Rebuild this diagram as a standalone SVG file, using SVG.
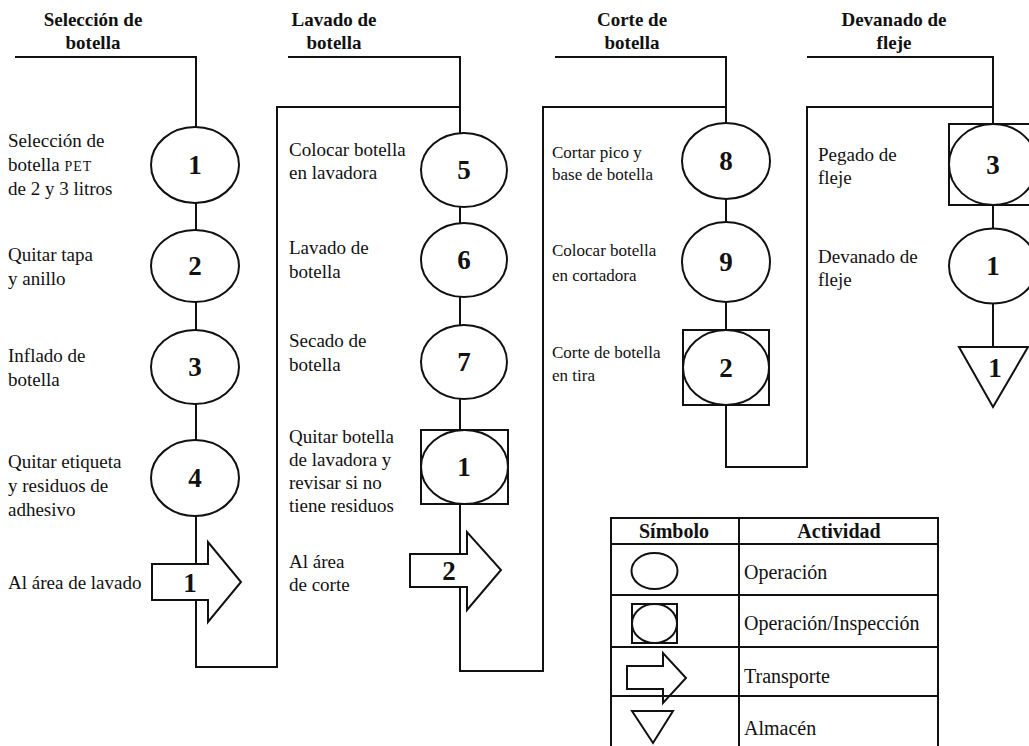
<svg xmlns="http://www.w3.org/2000/svg" width="1029" height="746" viewBox="0 0 1029 746">
<style>
.ln{fill:none;stroke:#111;stroke-width:2}
.sh{fill:#fff;stroke:#111;stroke-width:2}
.lb{font-family:"Liberation Serif",serif;font-size:19px;fill:#111}
.lb3{font-family:"Liberation Serif",serif;font-size:17px;fill:#111}
.hd{font-family:"Liberation Serif",serif;font-size:19px;font-weight:bold;fill:#111;text-anchor:middle}
.num{font-family:"Liberation Serif",serif;font-size:27px;font-weight:bold;fill:#111;text-anchor:middle}
.lg{font-family:"Liberation Serif",serif;font-size:20px;fill:#111}
.lgh{font-family:"Liberation Serif",serif;font-size:20px;font-weight:bold;fill:#111;text-anchor:middle}
</style>
<rect width="1029" height="746" fill="#fff"/>
<g id="headers">
<text class="hd" x="93" y="26">Selección de</text><text class="hd" x="93" y="49">botella</text>
<text class="hd" x="334" y="26">Lavado de</text><text class="hd" x="334" y="49">botella</text>
<text class="hd" x="632" y="26">Corte de</text><text class="hd" x="632" y="49">botella</text>
<text class="hd" x="894" y="26">Devanado de</text><text class="hd" x="894" y="49">fleje</text>
</g>
<g id="connectors">
<path class="ln" d="M15,57 H196 V667 H277 V107 H460"/>
<path class="ln" d="M288,57 H460 V671 H543 V107 H726"/>
<path class="ln" d="M555,57 H726 V467 H807 V107 H993"/>
<path class="ln" d="M807,57 H993 V347"/>
</g>
<g id="labels">
<text class="lb" x="8" y="147">Selección de</text>
<text class="lb" x="8" y="171">botella <tspan font-size="14" letter-spacing="1">PET</tspan></text>
<text class="lb" x="8" y="195">de 2 y 3 litros</text>
<text class="lb" x="8" y="261">Quitar tapa</text><text class="lb" x="8" y="285">y anillo</text>
<text class="lb" x="8" y="362">Inflado de</text><text class="lb" x="8" y="386">botella</text>
<text class="lb" x="8" y="468">Quitar etiqueta</text><text class="lb" x="8" y="492">y residuos de</text><text class="lb" x="8" y="516">adhesivo</text>
<text class="lb" x="8" y="589">Al área de lavado</text>
<text class="lb" x="289" y="156">Colocar botella</text><text class="lb" x="289" y="179">en lavadora</text>
<text class="lb" x="289" y="254">Lavado de</text><text class="lb" x="289" y="278">botella</text>
<text class="lb" x="289" y="347">Secado de</text><text class="lb" x="289" y="371">botella</text>
<text class="lb" x="289" y="443">Quitar botella</text><text class="lb" x="289" y="466">de lavadora y</text><text class="lb" x="289" y="489">revisar si no</text><text class="lb" x="289" y="512">tiene residuos</text>
<text class="lb" x="289" y="568">Al área</text><text class="lb" x="289" y="591">de corte</text>
<text class="lb3" x="552" y="158">Cortar pico y</text><text class="lb3" x="552" y="180">base de botella</text>
<text class="lb3" x="552" y="256">Colocar botella</text><text class="lb3" x="552" y="281">en cortadora</text>
<text class="lb3" x="552" y="358">Corte de botella</text><text class="lb3" x="552" y="381">en tira</text>
<text class="lb" x="818" y="161">Pegado de</text><text class="lb" x="818" y="184">fleje</text>
<text class="lb" x="818" y="263">Devanado de</text><text class="lb" x="818" y="286">fleje</text>
</g>
<g id="op1"><ellipse class="sh" cx="195" cy="165" rx="44" ry="38"/><text class="num" x="195" y="174">1</text></g>
<g id="op2"><ellipse class="sh" cx="195" cy="266" rx="44" ry="36"/><text class="num" x="195" y="275">2</text></g>
<g id="op3"><ellipse class="sh" cx="195" cy="367" rx="44" ry="37"/><text class="num" x="195" y="376">3</text></g>
<g id="op4"><ellipse class="sh" cx="195" cy="478" rx="44" ry="38"/><text class="num" x="195" y="487">4</text></g>
<g id="tr1"><polygon class="sh" points="152,564 208,564 208,542 241,582 208,622 208,600 152,600"/><text class="num" x="190" y="592">1</text></g>
<g id="op5"><ellipse class="sh" cx="464" cy="170" rx="43" ry="37"/><text class="num" x="464" y="179">5</text></g>
<g id="op6"><ellipse class="sh" cx="464" cy="260" rx="43" ry="37"/><text class="num" x="464" y="269">6</text></g>
<g id="op7"><ellipse class="sh" cx="464" cy="362" rx="43" ry="37"/><text class="num" x="464" y="371">7</text></g>
<g id="oi1"><rect class="sh" x="421" y="430" width="87" height="74"/><ellipse class="ln" cx="464.5" cy="467" rx="43.5" ry="37"/><text class="num" x="464" y="476">1</text></g>
<g id="tr2"><polygon class="sh" points="410,554 467,554 467,532 501,570 467,610 467,587 410,587"/><text class="num" x="449" y="580">2</text></g>
<g id="op8"><ellipse class="sh" cx="726" cy="161" rx="44" ry="38"/><text class="num" x="726" y="170">8</text></g>
<g id="op9"><ellipse class="sh" cx="726" cy="262" rx="44" ry="40"/><text class="num" x="726" y="271">9</text></g>
<g id="oi2"><rect class="sh" x="683" y="330" width="86" height="75"/><ellipse class="ln" cx="726" cy="367.5" rx="43" ry="37.5"/><text class="num" x="726" y="377">2</text></g>
<g id="oi3"><rect class="sh" x="949" y="124" width="88" height="81"/><ellipse class="ln" cx="993" cy="164.5" rx="44" ry="40.5"/><text class="num" x="993" y="174">3</text></g>
<g id="op10"><ellipse class="sh" cx="993" cy="266" rx="44" ry="37.5"/><text class="num" x="993" y="275">1</text></g>
<g id="al1"><polygon class="sh" points="959,347 1028,347 993,407"/><text class="num" x="995" y="377">1</text></g>
<g id="legend">
<path class="ln" d="M611,746 V518 H938 V746 M739,518 V746 M611,544 H938 M611,595 H938 M611,647 H938 M611,696 H938"/>
<text class="lgh" x="674" y="538">Símbolo</text>
<text class="lgh" x="839" y="538">Actividad</text>
<ellipse class="ln" cx="654.5" cy="571" rx="23" ry="18"/>
<text class="lg" x="744" y="579">Operación</text>
<rect class="ln" x="632" y="604" width="45" height="39"/><ellipse class="ln" cx="654.5" cy="623.5" rx="22.5" ry="19.5"/>
<text class="lg" x="744" y="630">Operación/Inspección</text>
<polygon class="ln" points="627,666 663,666 663,653 686,678 663,703 663,689 627,689"/>
<text class="lg" x="744" y="683">Transporte</text>
<polygon class="ln" points="632,711 673,711 653,743"/>
<text class="lg" x="744" y="735">Almacén</text>
</g>
</svg>
